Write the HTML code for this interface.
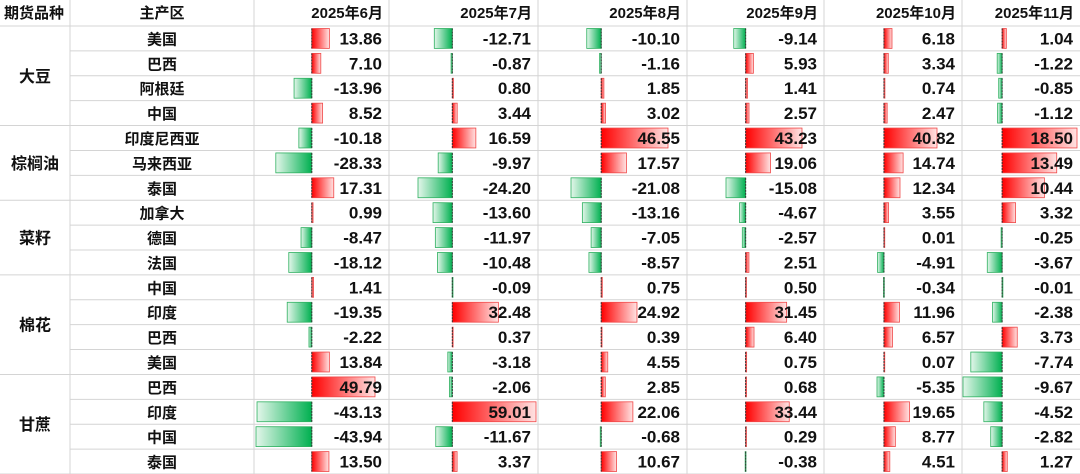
<!DOCTYPE html>
<html><head><meta charset="utf-8">
<style>
html,body{margin:0;padding:0;background:#fff;}
svg{display:block;font-family:"Liberation Sans","Noto Sans CJK SC",sans-serif;}
</style></head>
<body>
<svg id="t" width="1080" height="474" viewBox="0 0 1080 474" xmlns="http://www.w3.org/2000/svg">
<defs>
<linearGradient id="gr" x1="0" x2="1" y1="0" y2="0"><stop offset="0" stop-color="#ff0000"/><stop offset="1" stop-color="#ffe3e3"/></linearGradient>
<linearGradient id="gg" x1="1" x2="0" y1="0" y2="0"><stop offset="0" stop-color="#00b050"/><stop offset="1" stop-color="#e3f6ea"/></linearGradient>
</defs>
</svg>
<script>
const months = ["2025年6月","2025年7月","2025年8月","2025年9月","2025年10月","2025年11月"];
const groups = ["大豆","棕榈油","菜籽","棉花","甘蔗"];
const groupSizes = [4,3,3,4,4];
const regions = ["美国","巴西","阿根廷","中国","印度尼西亚","马来西亚","泰国","加拿大","德国","法国","中国","印度","巴西","美国","巴西","印度","中国","泰国"];
const jun = [13.86,7.10,-13.96,8.52,-10.18,-28.33,17.31,0.99,-8.47,-18.12,1.41,-19.35,-2.22,13.84,49.79,-43.13,-43.94,13.50];
const jul = [-12.71,-0.87,0.80,3.44,16.59,-9.97,-24.20,-13.60,-11.97,-10.48,-0.09,32.48,0.37,-3.18,-2.06,59.01,-11.67,3.37];
const aug = [-10.10,-1.16,1.85,3.02,46.55,17.57,-21.08,-13.16,-7.05,-8.57,0.75,24.92,0.39,4.55,2.85,22.06,-0.68,10.67];
const sep = [-9.14,5.93,1.41,2.57,43.23,19.06,-15.08,-4.67,-2.57,2.51,0.50,31.45,6.40,0.75,0.68,33.44,0.29,-0.38];
const oct = [6.18,3.34,0.74,2.47,40.82,14.74,12.34,3.55,0.01,-4.91,-0.34,11.96,6.57,0.07,-5.35,19.65,8.77,4.51];
const nov = [1.04,-1.22,-0.85,-1.12,18.50,13.49,10.44,3.32,-0.25,-3.67,-0.01,-2.38,3.73,-7.74,-9.67,-4.52,-2.82,1.27];
const series = [jun,jul,aug,sep,oct,nov];

const colX = [0,70,254,389,538,687,824,962,1080];
const barLeft = [256,418,571,726,877,963];
const barSpan = [119,118,97,76,60,114];
const headH = 26, rowH = (474-26)/18;
const svg = document.getElementById('t');
const NS = "http://www.w3.org/2000/svg";
function mk(tag, attrs, parent){const e=document.createElementNS(NS,tag);for(const k in attrs)e.setAttribute(k,attrs[k]);(parent||svg).appendChild(e);return e;}
function rowY(i){return headH + i*rowH;}
function makeScale(vals, left, span){
  const mn=Math.min(0,...vals), mx=Math.max(0,...vals);
  const k=span/((mx-mn)||1);
  const axis=left+(-mn)*k;
  return {axis:axis, x:v=>axis+v*k};
}
function groupStart(i){let s=0;for(const g of groupSizes){if(s===i)return true;s+=g;}return i===18;}

for(let i=0;i<=18;i++){
  const y=rowY(i);
  const l=mk('line',{x1:(i===0||groupStart(i))?0:70,x2:1080,y1:y,y2:y,stroke:'#d4d4d4','stroke-width':1});
  
  
}
for(const x of colX.slice(1,-1)){
  const l=mk('line',{x1:x,x2:x,y1:0,y2:474,stroke:'#d4d4d4','stroke-width':1});
  
  
}

const h1=mk('text',{x:4,y:18,'font-size':15,'font-weight':'bold',fill:'#111'});h1.textContent='期货品种';


const h2=mk('text',{x:162,y:18,'font-size':15,'font-weight':'bold',fill:'#111','text-anchor':'middle'});h2.textContent='主产区';


months.forEach((m,c)=>{
  const t=mk('text',{x:colX[c+3]-6,y:18,'font-size':15,'font-weight':'bold',fill:'#111','text-anchor':'end'});t.textContent=m;
  
  
});

let s=0;
groups.forEach((g,gi)=>{
  const yc=(rowY(s)+rowY(s+groupSizes[gi]))/2;
  const t=mk('text',{x:35,y:yc+6,'font-size':16,'font-weight':'bold',fill:'#111','text-anchor':'middle'});t.textContent=g;
  
  
  s+=groupSizes[gi];
});
regions.forEach((r,i)=>{
  const t=mk('text',{x:162,y:rowY(i)+rowH/2+6,'font-size':15,'font-weight':'bold',fill:'#111','text-anchor':'middle'});t.textContent=r;
  
  
});

series.forEach((vals,c)=>{
  const sc=makeScale(vals,barLeft[c],barSpan[c]);
  vals.forEach((v,i)=>{
    const y=rowY(i)+2.5, h=rowH-5;
    const x0=Math.min(sc.x(0),sc.x(v)), w=Math.abs(sc.x(v)-sc.x(0));
    const b=mk('rect',{x:x0,y:y,width:Math.max(w,0.8),height:h,fill:v>=0?'url(#gr)':'url(#gg)',stroke:v>=0?'#f04848':'#2fb060','stroke-width':0.8});
    
    
    const a=mk('line',{x1:sc.axis,x2:sc.axis,y1:y,y2:y+h,stroke:'#333','stroke-width':1,'stroke-dasharray':'2,1'});
    
    
    const t=mk('text',{x:colX[c+3]-7,y:rowY(i)+rowH/2+6,'font-size':17,'font-weight':'bold',fill:'#111','text-anchor':'end'});
    t.textContent=v.toFixed(2);
    
    
  });
});
</script>
</body></html>
